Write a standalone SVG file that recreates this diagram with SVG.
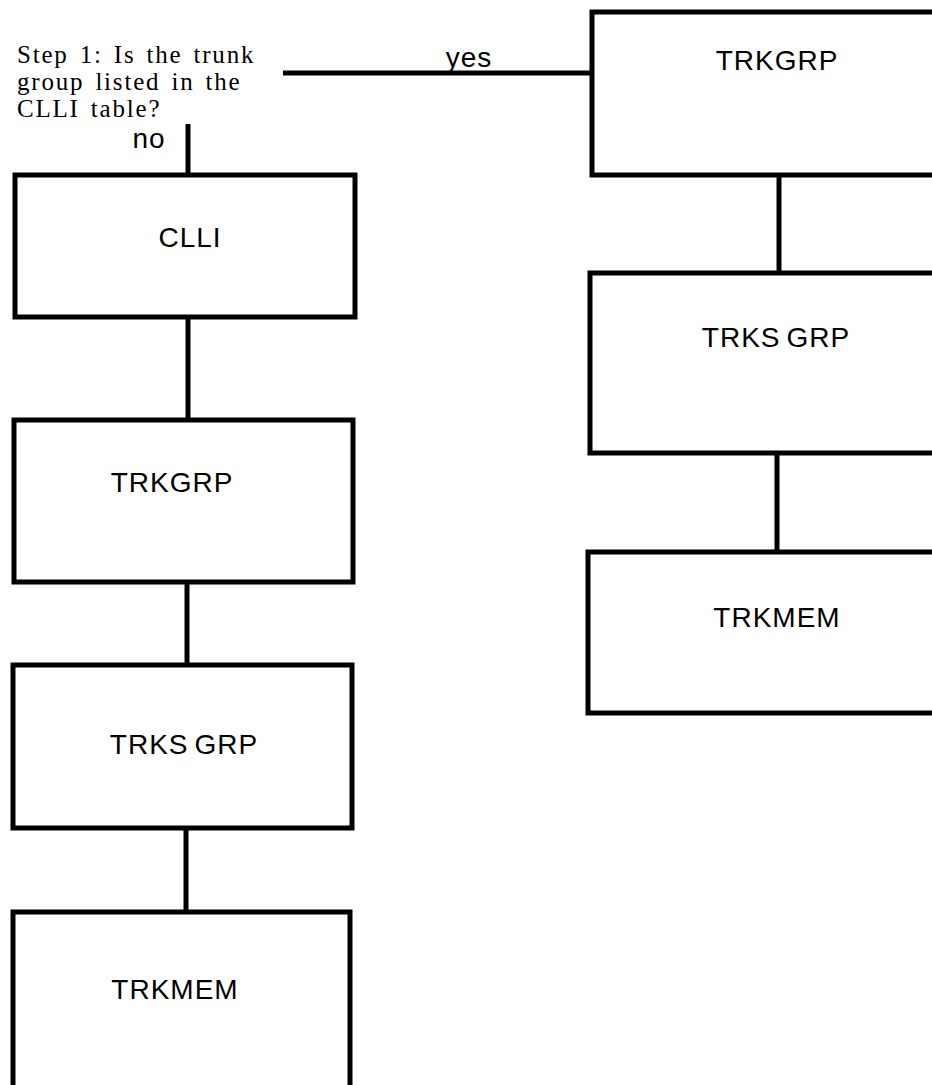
<svg xmlns="http://www.w3.org/2000/svg" width="932" height="1085" viewBox="0 0 932 1085">
<style>
.box{fill:#fff;stroke:#000;stroke-width:5}
.ln{stroke:#000;stroke-width:5;fill:none}
.lbl{font-family:"Liberation Sans",Arial,sans-serif;font-size:28px;letter-spacing:1px;fill:#000;text-anchor:middle}
.q{font-family:"Liberation Serif","Times New Roman",serif;font-size:25px;letter-spacing:1.8px;word-spacing:3px;fill:#000}
</style>
<rect width="932" height="1085" fill="#fff"/>
<g id="connectors">
<line class="ln" x1="283" y1="73" x2="590" y2="73"/>
<line class="ln" x1="188" y1="124" x2="188" y2="175"/>
<line class="ln" x1="188" y1="317" x2="188" y2="420"/>
<line class="ln" x1="187" y1="582" x2="187" y2="665"/>
<line class="ln" x1="186" y1="828" x2="186" y2="912"/>
<line class="ln" x1="779" y1="175" x2="779" y2="273"/>
<line class="ln" x1="777" y1="453" x2="777" y2="552"/>
<text class="lbl" x="469" y="67">yes</text>
<text class="lbl" x="149" y="148">no</text>
</g>
<g id="question">
<text class="q" x="17" y="63">Step 1: Is the trunk</text>
<text class="q" x="17" y="90">group listed in the</text>
<text class="q" x="17" y="117">CLLI table?</text>
</g>
<g id="clli">
<rect class="box" x="15" y="175" width="340" height="142"/>
<text class="lbl" x="190" y="247">CLLI</text>
</g>
<g id="trkgrp-left">
<rect class="box" x="14" y="420" width="339" height="162"/>
<text class="lbl" x="172" y="492">TRKGRP</text>
</g>
<g id="trksgrp-left">
<rect class="box" x="13" y="665" width="339" height="163"/>
<text class="lbl" x="184" y="754">TRKS<tspan dx="6">GRP</tspan></text>
</g>
<g id="trkmem-left">
<rect class="box" x="13" y="912" width="337" height="200"/>
<text class="lbl" x="175" y="999">TRKMEM</text>
</g>
<g id="trkgrp-right">
<rect class="box" x="592" y="12" width="380" height="163"/>
<text class="lbl" x="777" y="70">TRKGRP</text>
</g>
<g id="trksgrp-right">
<rect class="box" x="590" y="273" width="380" height="180"/>
<text class="lbl" x="776" y="347">TRKS<tspan dx="6">GRP</tspan></text>
</g>
<g id="trkmem-right">
<rect class="box" x="588" y="552" width="380" height="161"/>
<text class="lbl" x="777" y="627">TRKMEM</text>
</g>
</svg>
